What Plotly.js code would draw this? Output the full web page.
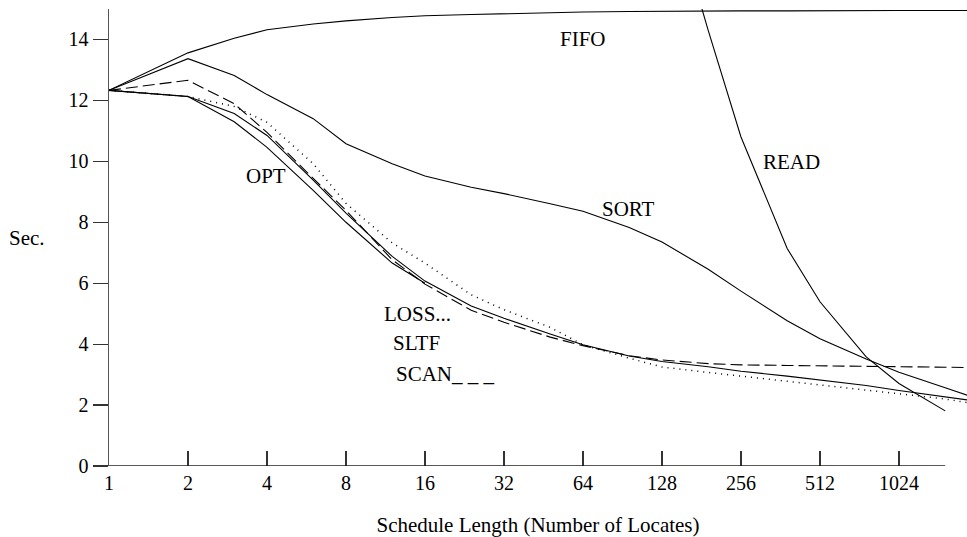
<!DOCTYPE html>
<html>
<head>
<meta charset="utf-8">
<script src="https://cdn.plot.ly/plotly-3.0.1.min.js"></script>
<style>html,body{margin:0;padding:0;background:#fff;}#chart{width:967px;height:537px;}</style>
</head>
<body>
<div id="chart"></div>
<script>
// Schedule lengths (x, log2 axis)
const scheduleLen = [1,2,3,4,6,8,12,16,24,32,48,64,96,128,192,256,384,512,768,1024,1536,2048];
const optLen = [1,2,3,4,6,8,12,16];
const readLen = [128,192,256,384,512,768,1024,1536];
const tickVals = [1,2,4,8,16,32,64,128,256,512,1024];
const tickText = ["1","2","4","8","16","32","64","128","256","512","1024"];
const yTicks = [0,2,4,6,8,10,12,14];

// Seconds per locate
const fifo = [12.33,13.56,14.04,14.32,14.51,14.61,14.72,14.78,14.82,14.85,14.89,14.90,14.92,14.93,14.94,14.94,14.94,14.95,14.95,14.95,14.95,14.95];
const sort = [12.33,13.37,12.82,12.19,11.40,10.58,9.92,9.52,9.15,8.94,8.61,8.36,7.83,7.35,6.46,5.74,4.77,4.18,3.51,3.08,2.57,2.20];
const loss = [12.33,12.13,11.80,11.28,9.92,8.62,7.32,6.66,5.62,5.13,4.55,3.98,3.54,3.25,3.07,2.95,2.79,2.66,2.49,2.36,2.20,2.02];
const sltf = [12.33,12.13,11.57,10.85,9.38,8.30,6.88,6.07,5.25,4.85,4.33,3.98,3.61,3.43,3.26,3.11,2.95,2.82,2.64,2.48,2.28,2.12];
const scan = [12.33,12.66,11.89,10.95,9.44,8.39,6.77,5.97,5.11,4.72,4.23,3.95,3.62,3.48,3.36,3.32,3.30,3.29,3.28,3.27,3.25,3.23];
const opt  = [12.33,12.13,11.30,10.46,9.05,8.00,6.66,6.00];
const read = [19.5,14.3,10.8,7.14,5.39,3.58,2.71,1.81];

const FONT = "Liberation Serif";
const solid = {color:"#000", width:1.1};
const traces = [
  {x:scheduleLen, y:fifo, name:"FIFO", line:solid},
  {x:scheduleLen, y:sort, name:"SORT", line:solid},
  {x:scheduleLen, y:loss, name:"LOSS", line:{color:"#000", width:1.5, dash:"1px,5px"}},
  {x:scheduleLen, y:sltf, name:"SLTF", line:solid},
  {x:scheduleLen, y:scan, name:"SCAN", line:{color:"#000", width:1.1, dash:"12px,5px"}},
  {x:optLen, y:opt, name:"OPT", line:solid},
  {x:readLen, y:read, name:"READ", line:solid}
].map(t => Object.assign({type:"scatter", mode:"lines", hoverinfo:"skip"}, t));

const L2 = v => Math.log10(v);
const lab = (text, x, y, xanchor) => ({text, x:L2(x), y, xref:"x", yref:"y", showarrow:false,
  xanchor:xanchor||"center", yanchor:"middle", font:{family:FONT, size:21, color:"#000"}});

const layout = {
  width:967, height:537,
  margin:{l:109, r:0, t:8.5, b:71},
  paper_bgcolor:"#fff", plot_bgcolor:"#fff",
  showlegend:false,
  font:{family:FONT, size:20, color:"#000"},
  xaxis:{type:"log", range:[0, 3.2695], tickmode:"array", tickvals:tickVals, ticktext:tickText,
    ticks:"inside", ticklen:15, tickwidth:1.2, tickcolor:"#333", showline:false, showgrid:false, zeroline:false,
    ticklabelstandoff:3,
    tickfont:{family:FONT, size:20, color:"#000"},
    title:{text:"Schedule Length (Number of Locates)", font:{family:FONT, size:21, color:"#000"}, standoff:28}},
  yaxis:{range:[0,15], tickmode:"array", tickvals:yTicks, ticks:"outside", ticklen:15, tickwidth:1.2, tickcolor:"#333",
    showline:true, linecolor:"#555", linewidth:1.5, showgrid:false, zeroline:false,
    tickfont:{family:FONT, size:20, color:"#000"}},
  shapes:[{type:"line", xref:"x", yref:"y", x0:1, x1:1536, y0:0, y1:0, line:{color:"#222", width:1.5}}],
  annotations:[
    lab("FIFO", 64, 14.02),
    lab("READ", 400, 9.98),
    lab("SORT", 95, 8.44),
    lab("OPT", 3.95, 9.52),
    lab("LOSS...", 11.0, 5.0, "left"),
    lab("SLTF", 11.9, 4.05, "left"),
    lab("SCAN_ _ _", 12.2, 3.03, "left"),
    {text:"Sec.", xref:"paper", yref:"paper", xanchor:"center", yanchor:"middle", showarrow:false,
     font:{family:FONT, size:21, color:"#000"}, x:(27-109)/858, y:(466-238)/457.5}
  ]
};
Plotly.newPlot("chart", traces, layout, {staticPlot:true, displayModeBar:false});
</script>
</body>
</html>
